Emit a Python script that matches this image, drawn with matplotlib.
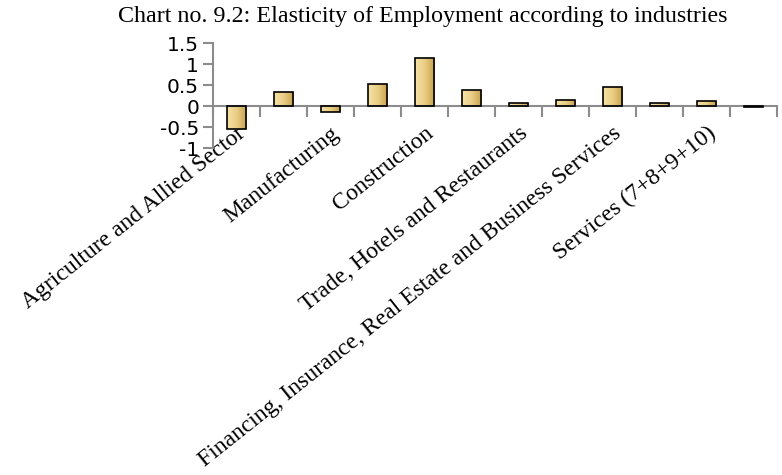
import numpy as np
import matplotlib
matplotlib.use("Agg")
import matplotlib.pyplot as plt
from matplotlib.colors import LinearSegmentedColormap

# Sector-wise elasticity of employment
categories = [
    "Agriculture and Allied Sector",
    "Mining and Quarrying",
    "Manufacturing",
    "Electricity, Gas and Water Supply",
    "Construction",
    "Industry (2+3+4+5)",
    "Trade, Hotels and Restaurants",
    "Transport, Storage and Communication",
    "Financing, Insurance, Real Estate and Business Services",
    "Community, Social and Personal Services",
    "Services (7+8+9+10)",
    "Total",
]
elasticity = [-0.54, 0.33, -0.14, 0.52, 1.16, 0.38, 0.08, 0.14, 0.46, 0.08, 0.13, -0.01]
y_ticks = [-1, -0.5, 0, 0.5, 1, 1.5]
y_tick_labels = ["-1", "-0.5", "0", "0.5", "1", "1.5"]
title = "Chart no. 9.2: Elasticity of Employment according to industries"

fig = plt.figure(figsize=(7.82, 4.75), dpi=100)
ax = fig.add_axes([213 / 782, 1 - 148.3 / 475, (777 - 213) / 782, (148.3 - 43.3) / 475])

x = np.arange(len(categories))
bars = ax.bar(x, elasticity, width=0.42, facecolor="none", edgecolor="black",
              linewidth=1.2, zorder=3)

# left-to-right gold gradient inside each bar
gold = LinearSegmentedColormap.from_list("gold", ["#f7e2a6", "#e9cd84", "#c7a04c"])
grad = np.linspace(0, 1, 64).reshape(1, -1)
for b in bars:
    x0, y0 = b.get_x(), b.get_y()
    w, h = b.get_width(), b.get_height()
    im = ax.imshow(grad, cmap=gold, aspect="auto", zorder=2,
                   extent=[x0, x0 + w, min(y0, y0 + h), max(y0, y0 + h)],
                   interpolation="bilinear")
    im.set_clip_path(b)

ax.set_xlim(-0.5, len(categories) - 0.5)
ax.set_ylim(-1, 1.5)

axis_grey = "#8c8c8c"
for s in ["top", "right"]:
    ax.spines[s].set_visible(False)
ax.spines["left"].set_color(axis_grey)
ax.spines["left"].set_linewidth(1.5)
ax.spines["bottom"].set_position(("data", 0))
ax.spines["bottom"].set_color(axis_grey)
ax.spines["bottom"].set_linewidth(1.5)

ax.set_yticks(y_ticks)
ax.set_yticklabels(y_tick_labels, fontsize=14.5, family="DejaVu Sans")
ax.tick_params(axis="y", length=7, width=1.5, color=axis_grey, pad=3)

# category boundaries as ticks, every second category labelled
ax.set_xticks(np.arange(-0.5, len(categories)), minor=True)
ax.tick_params(axis="x", which="minor", length=8, width=1.5, color=axis_grey, direction="out")
ax.set_xticks(x[::2])
ax.set_xticklabels(categories[::2], rotation=38.5, ha="right", va="top",
                   rotation_mode="anchor", fontsize=17, family="Liberation Serif")
ax.tick_params(axis="x", which="major", length=0, pad=12)

fig.text(423 / 782, 1 - 6 / 475, title, ha="center", va="top",
         fontsize=17.3, family="Liberation Serif")

fig.savefig("out.png", dpi=100)
